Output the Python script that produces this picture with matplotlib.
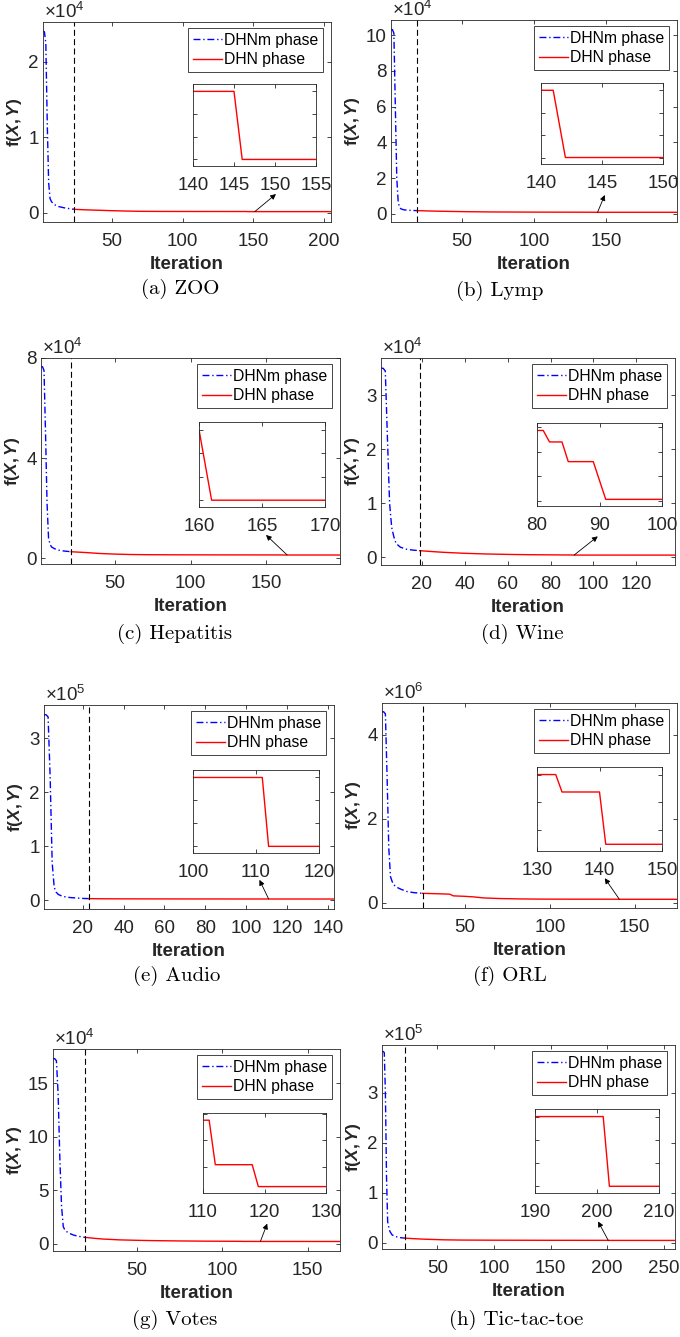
import matplotlib
matplotlib.use("Agg")
import matplotlib.pyplot as plt
import matplotlib.transforms as mtransforms
from matplotlib.ticker import MultipleLocator, MaxNLocator
import numpy as np

plt.rcParams["font.family"] = "Liberation Sans"
plt.rcParams["mathtext.fontset"] = "custom"
plt.rcParams["mathtext.rm"] = "Liberation Sans"
plt.rcParams["mathtext.bf"] = "Liberation Sans:bold"
plt.rcParams["mathtext.sf"] = "Liberation Sans:bold:italic"
plt.rcParams["axes.unicode_minus"] = False

GRAY = "#262626"

# ---- objective value per iteration (DHNm phase, then DHN phase) ----
zoo_dhnm_it = [1, 2, 3, 4, 5, 6, 7, 9, 12, 16, 20, 23]
zoo_dhnm_val = [24100, 24000, 22500, 12000, 4000, 1900, 1500, 1100, 850, 680, 560, 480]
zoo_dhn_it = [23, 30, 40, 50, 60, 70, 85, 100, 120, 140, 145, 146, 155, 180, 205]
zoo_dhn_val = [480, 420, 360, 300, 250, 215, 200, 195, 192, 190, 190, 175, 175, 175, 175]

lymp_dhnm_it = [1, 2, 3, 4, 5, 6, 7, 8, 10, 13, 16, 19]
lymp_dhnm_val = [103000, 103000, 101000, 60000, 20000, 6500, 3500, 2800, 2300, 2050, 1950, 1850]
lymp_dhn_it = [19, 30, 50, 70, 100, 130, 140, 141, 142, 150, 199]
lymp_dhn_val = [1850, 1600, 1300, 1120, 1020, 975, 960, 960, 930, 930, 930]

hep_dhnm_it = [1, 2, 3, 4, 5, 6, 7, 8, 10, 13, 16, 21]
hep_dhnm_val = [76500, 76500, 75000, 50000, 22000, 8000, 5500, 4500, 3800, 3200, 2900, 2600]
hep_dhn_it = [21, 30, 40, 50, 60, 70, 90, 120, 150, 160, 161, 170, 199]
hep_dhn_val = [2600, 2300, 1900, 1650, 1500, 1420, 1370, 1340, 1325, 1320, 1290, 1290, 1290]

wine_dhnm_it = [1, 2, 3, 4, 5, 6, 7, 8, 10, 13, 16, 19]
wine_dhnm_val = [35000, 35000, 34500, 22000, 10000, 5500, 3800, 2600, 1900, 1500, 1350, 1250]
wine_dhn_it = [19, 25, 30, 40, 50, 60, 70, 80, 81, 82, 84, 85, 89, 91, 100, 138]
wine_dhn_val = [1250, 1080, 950, 760, 640, 560, 505, 478, 478, 471, 471, 459, 459, 436, 436, 430]

audio_dhnm_it = [1, 2, 3, 4, 5, 6, 7, 8, 10, 13, 17, 20, 23]
audio_dhnm_val = [344000, 344000, 340000, 230000, 70000, 24000, 15000, 11000, 7500, 5500, 4300, 3600, 3200]
audio_dhn_it = [23, 30, 40, 60, 80, 100, 111, 112, 120, 143]
audio_dhn_val = [3200, 2950, 2800, 2680, 2600, 2560, 2560, 2500, 2500, 2490]

orl_dhnm_it = [1, 2, 3, 4, 5, 6, 7, 8, 10, 12, 16, 20, 25]
orl_dhnm_val = [4550000, 4550000, 4500000, 3000000, 1300000, 620000, 500000, 420000,
                360000, 320000, 260000, 235000, 220000]
orl_dhn_it = [25, 30, 35, 41, 43, 50, 55, 61, 71, 82, 94, 110, 130, 133, 134, 140, 141, 150, 175]
orl_dhn_val = [220000, 214000, 208000, 200000, 160000, 148000, 135000, 110000, 95000, 87000,
               82000, 80500, 80000, 80000, 79500, 79500, 78000, 78000, 77500]

votes_dhnm_it = [1, 2, 3, 4, 5, 6, 7, 8, 10, 13, 16, 20]
votes_dhnm_val = [173000, 173000, 171000, 140000, 80000, 35000, 16000, 12500, 10000, 8000, 6800, 5800]
votes_dhn_it = [20, 25, 30, 40, 50, 60, 75, 90, 110, 111, 112, 118, 119, 130, 169]
votes_dhn_val = [5800, 5000, 4300, 3500, 3100, 2800, 2500, 2300, 2150, 2150, 2083, 2083, 2050, 2050, 2000]

ttt_dhnm_it = [1, 2, 3, 4, 5, 6, 7, 8, 10, 13, 16, 21]
ttt_dhnm_val = [382000, 382000, 380000, 300000, 130000, 42000, 30000, 22000, 15000, 12000, 10000, 8800]
ttt_dhn_it = [21, 30, 40, 55, 70, 100, 150, 190, 201, 202, 210, 260]
ttt_dhn_val = [8800, 7500, 6500, 5400, 4900, 4600, 4400, 4350, 4350, 4200, 4200, 4150]

captions = ["(a) ZOO", "(b) Lymp", "(c) Hepatitis", "(d) Wine",
            "(e) Audio", "(f) ORL", "(g) Votes", "(h) Tic-tac-toe"]
exponents = [4, 4, 4, 4, 5, 6, 4, 5]
y_ticks = [[0, 1, 2], [0, 2, 4, 6, 8, 10], [0, 4, 8], [0, 1, 2, 3],
           [0, 1, 2, 3], [0, 2, 4], [0, 5, 10, 15], [0, 1, 2, 3]]
x_step = [50, 50, 50, 20, 20, 50, 50, 50]
zoom_windows = [(140, 155), (140, 150), (160, 170), (80, 100),
                (100, 120), (130, 150), (110, 130), (190, 210)]
zoom_step = [5, 5, 5, 10, 10, 10, 10, 10]

series = [
    (zoo_dhnm_it, zoo_dhnm_val, zoo_dhn_it, zoo_dhn_val),
    (lymp_dhnm_it, lymp_dhnm_val, lymp_dhn_it, lymp_dhn_val),
    (hep_dhnm_it, hep_dhnm_val, hep_dhn_it, hep_dhn_val),
    (wine_dhnm_it, wine_dhnm_val, wine_dhn_it, wine_dhn_val),
    (audio_dhnm_it, audio_dhnm_val, audio_dhn_it, audio_dhn_val),
    (orl_dhnm_it, orl_dhnm_val, orl_dhn_it, orl_dhn_val),
    (votes_dhnm_it, votes_dhnm_val, votes_dhn_it, votes_dhn_val),
    (ttt_dhnm_it, ttt_dhnm_val, ttt_dhn_it, ttt_dhn_val),
]

# ---- layout (pixels, top-left origin) ----
W, H = 680, 1337
ax_boxes = [(43, 22, 331, 222), (391, 20, 677, 222),
            (41, 358, 340, 564), (381, 358, 675, 565),
            (44, 705, 334, 909), (382, 703, 677, 908),
            (53, 1049, 340, 1251), (382, 1045, 675, 1249)]
ylims = [(-0.12, 2.53), (-0.45, 10.84), (-0.23, 8.0), (-0.14, 3.69),
         (-0.16, 3.62), (-0.13, 4.76), (-0.69, 18.2), (-0.13, 3.95)]
inset_boxes = [(193, 84, 316, 166), (541, 83, 663, 164),
               (199, 422, 325, 507), (537, 423, 662, 506),
               (193, 770, 319, 853), (537, 767, 662, 851),
               (203, 1113, 326, 1193), (535, 1109, 659, 1193)]
# arrow tail (x, value) -> head (x, value)
arrows = [(151, 175, 166, 2500), (144, 930, 149, 10600), (164, 1290, 150, 9300),
          (91, 436, 102, 3900), (111, 2500, 106.5, 38000), (141, 78000, 132.4, 580000),
          (122.4, 2050, 126.4, 18700), (201, 4300, 192, 42000)]
caption_pos = [(180, 289), (500, 291), (175, 634), (522, 634),
               (177, 976), (510, 976), (175, 1320), (516, 1320)]

TICK_FS = 13.5
LABEL_FS = 13.5
LEG_FS = 11.3
CAP_FS = 15


def frac(l, t, r, b):
    return [l / W, 1 - b / H, (r - l) / W, (b - t) / H]


def style(ax):
    for s in ax.spines.values():
        s.set_color(GRAY)
        s.set_linewidth(0.6)
    ax.tick_params(direction="in", top=True, right=True, colors=GRAY,
                   labelsize=TICK_FS, length=3, width=0.6, pad=3)
    ax.tick_params(axis="x", pad=8)


fig = plt.figure(figsize=(W / 100, H / 100), dpi=100)

for k in range(8):
    m_it, m_val, d_it, d_val = series[k]
    s = 10.0 ** exponents[k]

    ax = fig.add_axes(frac(*ax_boxes[k]))
    ax.plot(m_it, np.array(m_val) / s, color="b", lw=1.0,
            ls=(0, (5, 2, 1, 2)), label="DHNm phase")
    ax.plot(d_it, np.array(d_val) / s, color="r", lw=1.0, label="DHN phase")
    ax.axvline(m_it[-1], color="k", lw=0.8, ls=(0, (5.4, 3)))
    ax.set_xlim(1, d_it[-1])
    ax.set_ylim(*ylims[k])
    ax.xaxis.set_major_locator(MultipleLocator(x_step[k]))
    ax.set_yticks(y_ticks[k])
    style(ax)
    ax.set_xlabel("Iteration", fontsize=LABEL_FS, fontweight="bold", color=GRAY, labelpad=4)
    ax.set_ylabel(r"$\mathbf{f(}\mathsf{X}\mathbf{,}\,\mathsf{Y}\mathbf{)}$",
                  fontsize=12.5, color=GRAY, labelpad=3)
    ax.text(0.005, 1.0, r"$\times\mathrm{10}^{%d}$" % exponents[k], transform=ax.transAxes,
            ha="left", va="bottom", fontsize=TICK_FS, color=GRAY)

    off = mtransforms.offset_copy(ax.transAxes, fig=fig, x=-8, y=-6, units="dots")
    leg = ax.legend(loc="upper right", bbox_to_anchor=(1, 1), bbox_transform=off,
                    borderaxespad=0, fontsize=LEG_FS, fancybox=False, framealpha=1,
                    edgecolor=GRAY, handlelength=1.85, handletextpad=0.15,
                    labelspacing=0.3, borderpad=0.3)
    leg.get_frame().set_linewidth(0.6)

    tx, tv, hx, hv = arrows[k]
    ax.annotate("", xy=(hx, hv / s), xytext=(tx, tv / s),
                arrowprops=dict(arrowstyle="-|>", color="k", lw=0.6,
                                mutation_scale=8, shrinkA=0, shrinkB=0))

    # zoomed inset
    lo, hi = zoom_windows[k]
    ins = fig.add_axes(frac(*inset_boxes[k]))
    ins.plot(d_it, d_val, color="r", lw=1.0)
    it = np.array(d_it)
    v = np.array(d_val)
    inwin = v[(it >= lo) & (it <= hi)]
    top, bot = inwin.max(), inwin.min()
    span = (top - bot) / 0.83
    ins.set_xlim(lo, hi)
    ins.set_ylim(bot - 0.08 * span, top + 0.09 * span)
    ins.xaxis.set_major_locator(MultipleLocator(zoom_step[k]))
    ins.yaxis.set_major_locator(MaxNLocator(4))
    style(ins)
    ins.tick_params(labelleft=False)

    cx, cy = caption_pos[k]
    fig.text(cx / W, 1 - cy / H, captions[k], ha="center", va="center",
             fontsize=CAP_FS, family=["cmr10", "DejaVu Serif"])

fig.savefig("out.png", dpi=100)
